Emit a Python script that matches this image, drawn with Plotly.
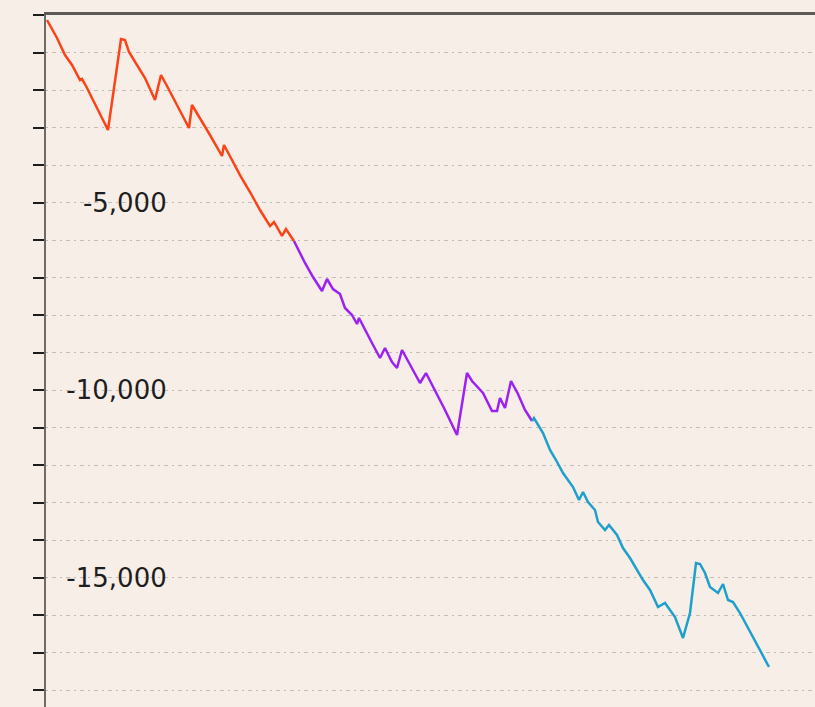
import plotly.graph_objects as go

# ── Data (x = step, y = running total) ───────────────────────────────
red_x = [1, 11, 19, 26, 34, 36, 40, 54, 62, 75, 79, 83, 99, 109, 115, 121,
         134, 143, 146, 154, 164, 176, 178, 186, 194, 204, 214, 224, 228, 236, 240, 248]
red_y = [-133, -613, -1067, -1333, -1733, -1707, -1893, -2613, -3067, -640, -667, -987,
         -1680, -2267, -1600, -1893, -2533, -3013, -2400, -2747, -3200, -3760, -3467,
         -3867, -4267, -4720, -5200, -5627, -5520, -5893, -5707, -6027]

purple_x = [248, 259, 267, 276, 281, 287, 294, 299, 306, 311, 313, 318, 326, 334, 339,
            346, 351, 356, 364, 374, 380, 389, 399, 411, 421, 426, 434, 437, 446, 451,
            454, 459, 465, 472, 479, 486]
purple_y = [-6027, -6613, -6987, -7360, -7040, -7307, -7440, -7813, -8000, -8240, -8080,
            -8347, -8747, -9147, -8880, -9253, -9413, -8933, -9333, -9813, -9547, -10000,
            -10533, -11200, -9547, -9760, -10000, -10080, -10560, -10560, -10213, -10480,
            -9760, -10107, -10533, -10827]

cyan_x = [486, 488, 497, 504, 510, 517, 527, 533, 537, 542, 549, 552, 559, 563, 571,
          577, 584, 597, 604, 612, 619, 629, 637, 644, 650, 654, 659, 664, 672, 677,
          682, 687, 694, 701, 712, 723]
cyan_y = [-10827, -10747, -11147, -11600, -11867, -12213, -12587, -12933, -12720, -12987,
          -13200, -13520, -13733, -13600, -13867, -14213, -14480, -15067, -15333, -15787,
          -15680, -16053, -16613, -15947, -14613, -14640, -14880, -15253, -15413, -15173,
          -15600, -15653, -15947, -16293, -16827, -17387]

label_vals = [-5000, -10000, -15000]
label_text = ["-5,000", "-10,000", "-15,000"]

BG = "#f6eee7"
Y_RANGE = [-18453, 0]

fig = go.Figure()
fig.add_trace(go.Scatter(x=red_x, y=red_y, mode="lines",
                         line=dict(color="#fa4418", width=2.5)))
fig.add_trace(go.Scatter(x=purple_x, y=purple_y, mode="lines",
                         line=dict(color="#9b22f2", width=2.5)))
fig.add_trace(go.Scatter(x=cyan_x, y=cyan_y, mode="lines", yaxis="y2",
                         line=dict(color="#1e9fcc", width=2.5)))

fig.update_layout(
    width=815, height=707,
    paper_bgcolor=BG, plot_bgcolor=BG,
    showlegend=False,
    margin=dict(l=46, r=0, t=15, b=0),
    xaxis=dict(range=[0, 769], side="top", showline=True, linecolor="#5e5a5a",
               linewidth=3, showgrid=False, zeroline=False, showticklabels=False,
               ticks=""),
    yaxis=dict(range=Y_RANGE, tick0=0, dtick=1000, ticks="outside", ticklen=11,
               tickwidth=2, tickcolor="#1e1e1e", showline=True, linecolor="#6e6a68",
               linewidth=2, showgrid=True, gridcolor="#c4bcb6",
               griddash="2px,4px,4px,4px", gridwidth=1, zeroline=False,
               showticklabels=False),
    yaxis2=dict(range=Y_RANGE, overlaying="y", anchor="free", position=0.157,
                side="left", showgrid=False, showline=False, zeroline=False, ticks="",
                tickvals=label_vals, ticktext=label_text,
                tickfont=dict(family="DejaVu Sans", size=26, color="#1e1e1e")),
)

# drop the default 8px body margin so the figure fills the window
fig.write_html("out.html",
               config={"displayModeBar": False},
               post_script=f"document.body.style.margin='0';"
                           f"document.body.style.background='{BG}';")
